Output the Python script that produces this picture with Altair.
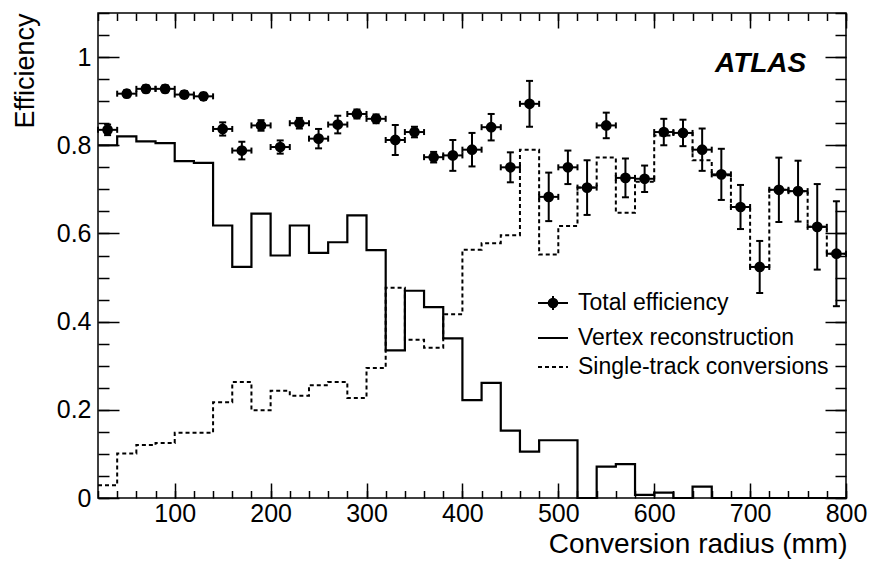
import altair as alt
import pandas as pd

FONT = "Liberation Sans"
W, H = 748, 485

# ---- data ----
bin_low = list(range(20, 800, 20))          # 20 mm bins, 20..800 mm
bin_width = 20

vertex = [0.800, 0.820, 0.809, 0.805, 0.764, 0.760, 0.618, 0.524, 0.645, 0.550,
          0.618, 0.556, 0.580, 0.641, 0.562, 0.335, 0.470, 0.433, 0.362, 0.222,
          0.261, 0.153, 0.105, 0.131, 0.131, 0.000, 0.071, 0.077, 0.007, 0.012,
          0.000, 0.026, 0.000, 0.000, 0.000, 0.000, 0.000, 0.000, 0.000]

single = [0.029, 0.101, 0.120, 0.125, 0.148, 0.148, 0.217, 0.263, 0.199, 0.243,
          0.232, 0.256, 0.263, 0.227, 0.295, 0.477, 0.359, 0.341, 0.417, 0.563,
          0.578, 0.596, 0.790, 0.552, 0.617, 0.704, 0.772, 0.647, 0.717, 0.822,
          0.828, 0.766, 0.732, 0.660, 0.524, 0.699, 0.696, 0.615, 0.554]

total = [0.835, 0.917, 0.928, 0.928, 0.915, 0.911, 0.837, 0.788, 0.845, 0.796,
         0.850, 0.815, 0.847, 0.871, 0.860, 0.812, 0.830, 0.773, 0.777, 0.790,
         0.841, 0.750, 0.894, 0.683, 0.750, 0.704, 0.845, 0.726, 0.724, 0.830,
         0.828, 0.790, 0.734, 0.660, 0.524, 0.699, 0.696, 0.615, 0.554]

total_err = [0.012, 0.008, 0.008, 0.008, 0.008, 0.008, 0.015, 0.020, 0.012, 0.015,
             0.012, 0.022, 0.020, 0.010, 0.010, 0.034, 0.012, 0.012, 0.035, 0.038,
             0.030, 0.034, 0.052, 0.055, 0.038, 0.062, 0.029, 0.044, 0.030, 0.030,
             0.030, 0.048, 0.058, 0.050, 0.059, 0.073, 0.069, 0.097, 0.119]

x_major = [100, 200, 300, 400, 500, 600, 700, 800]
x_minor = list(range(20, 801, 20))
y_major = [0, 0.2, 0.4, 0.6, 0.8, 1.0]
y_minor = [round(i * 0.05, 2) for i in range(0, 23)]

legend_labels = ["Total efficiency", "Vertex reconstruction", "Single-track conversions"]

# ---- tables ----
edges = bin_low + [bin_low[-1] + bin_width]
df_v = pd.DataFrame({"r": edges, "eff": vertex + [vertex[-1]]})
df_s = pd.DataFrame({"r": edges, "eff": single + [single[-1]]})
df_t = pd.DataFrame({
    "lo": bin_low,
    "hi": [b + bin_width for b in bin_low],
    "c": [b + bin_width / 2 for b in bin_low],
    "eff": total,
    "elo": [t - e for t, e in zip(total, total_err)],
    "ehi": [t + e for t, e in zip(total, total_err)],
})
df_vcap = pd.concat([
    pd.DataFrame({"c": df_t["c"], "ey": df_t["elo"]}),
    pd.DataFrame({"c": df_t["c"], "ey": df_t["ehi"]}),
])
df_hcap = pd.concat([
    pd.DataFrame({"ex": df_t["lo"], "eff": df_t["eff"]}),
    pd.DataFrame({"ex": df_t["hi"], "eff": df_t["eff"]}),
])

xs = alt.Scale(domain=[20, 800], nice=False, zero=False)
ys = alt.Scale(domain=[0, 1.1], nice=False, zero=False)


def tick_axis(orient, values, size, offset):
    return alt.Axis(orient=orient, values=values, offset=offset, ticks=True,
                    tickSize=size, tickWidth=1.5, tickColor="black",
                    labels=False, domain=False, grid=False, title="")


x_label_axis = alt.Axis(orient="bottom", values=x_major, ticks=False, tickSize=0,
                        domain=False, grid=False, labelFont=FONT, labelFontSize=25,
                        labelColor="black", labelPadding=3, labelFlush=False,
                        labelOverlap=False,
                        title="Conversion radius (mm)", titleFont=FONT,
                        titleFontSize=28, titleFontWeight="normal", titleColor="black",
                        titleAnchor="end", titleAlign="right", titleBaseline="alphabetic",
                        titleX=W + 1, titleY=54)
y_label_axis = alt.Axis(orient="left", values=y_major, format="~g", ticks=False,
                        tickSize=0, domain=False, grid=False, labelFont=FONT,
                        labelFontSize=25, labelColor="black", labelPadding=7,
                        title="Efficiency", titleFont=FONT, titleFontSize=27,
                        titleFontWeight="normal", titleColor="black", titleAngle=270,
                        titleAnchor="end", titleAlign="right", titleBaseline="alphabetic",
                        titleX=-65, titleY=0)

dashed = alt.Chart(df_s).mark_line(interpolate="step-after", color="black",
                                   strokeWidth=2, strokeDash=[4, 3]).encode(
    x=alt.X("r:Q", scale=xs, axis=x_label_axis),
    y=alt.Y("eff:Q", scale=ys, axis=y_label_axis),
)

solid = alt.Chart(df_v).mark_line(interpolate="step-after", color="black",
                                  strokeWidth=2.2).encode(
    x=alt.X("r:Q", scale=xs, axis=tick_axis("top", x_major, 15, -H)),
    y=alt.Y("eff:Q", scale=ys, axis=tick_axis("right", y_major, 21, -W)),
)

vbars = alt.Chart(df_t).mark_rule(color="black", strokeWidth=2).encode(
    x=alt.X("c:Q", scale=xs, axis=tick_axis("top", x_minor, 7.5, -H)),
    y=alt.Y("elo:Q", scale=ys, axis=tick_axis("right", y_minor, 11, -W)),
    y2="ehi:Q",
)

hbars = alt.Chart(df_t).mark_rule(color="black", strokeWidth=2).encode(
    x=alt.X("lo:Q", scale=xs, axis=tick_axis("bottom", x_major, 15, -H)),
    x2="hi:Q",
    y=alt.Y("eff:Q", scale=ys, axis=tick_axis("left", y_major, 21, -W)),
)

vcaps = alt.Chart(df_vcap).mark_tick(orient="horizontal", size=7, thickness=2,
                                     color="black", opacity=1).encode(
    x=alt.X("c:Q", scale=xs, axis=tick_axis("bottom", x_minor, 7.5, -H)),
    y=alt.Y("ey:Q", scale=ys, axis=tick_axis("left", y_minor, 11, -W)),
)

hcaps = alt.Chart(df_hcap).mark_tick(orient="vertical", size=6, thickness=2,
                                     color="black", opacity=1).encode(
    x=alt.X("ex:Q", scale=xs, axis=None),
    y=alt.Y("eff:Q", scale=ys, axis=None),
)

points = alt.Chart(df_t).mark_point(filled=True, shape="circle", size=115,
                                    color="black", opacity=1).encode(
    x=alt.X("c:Q", scale=xs, axis=None),
    y=alt.Y("eff:Q", scale=ys, axis=None),
)

one = pd.DataFrame({"k": [0]})

atlas = alt.Chart(one).mark_text(text="ATLAS", font=FONT, fontSize=28,
                                 fontWeight="bold", fontStyle="italic",
                                 align="left", baseline="alphabetic",
                                 color="black").encode(
    x=alt.value(617), y=alt.value(59))

# ---- legend ----
LX0, LX1, LXC, LTX = 440, 470, 455, 480
ROWS = [290, 325, 354]
leg_parts = []
leg_parts.append(alt.Chart(one).mark_rule(color="black", strokeWidth=2).encode(
    x=alt.value(LX0), x2=alt.value(LX1), y=alt.value(ROWS[0])))
leg_parts.append(alt.Chart(one).mark_rule(color="black", strokeWidth=2).encode(
    x=alt.value(LXC), y=alt.value(ROWS[0] - 7), y2=alt.value(ROWS[0] + 7)))
leg_parts.append(alt.Chart(one).mark_point(filled=True, shape="circle", size=115,
                                           color="black", opacity=1).encode(
    x=alt.value(LXC), y=alt.value(ROWS[0])))
leg_parts.append(alt.Chart(one).mark_rule(color="black", strokeWidth=2).encode(
    x=alt.value(LX0), x2=alt.value(LX1), y=alt.value(ROWS[1])))
leg_parts.append(alt.Chart(one).mark_rule(color="black", strokeWidth=2,
                                          strokeDash=[4, 3]).encode(
    x=alt.value(LX0), x2=alt.value(LX1), y=alt.value(ROWS[2])))
for lab, ry in zip(legend_labels, ROWS):
    leg_parts.append(alt.Chart(one).mark_text(text=lab, font=FONT, fontSize=23,
                                              align="left", baseline="middle",
                                              color="black").encode(
        x=alt.value(LTX), y=alt.value(ry)))

chart = alt.layer(dashed, solid, vbars, hbars, vcaps, hcaps, points, atlas,
                  *leg_parts).resolve_axis(
    x="independent", y="independent"
).properties(
    width=W, height=H,
    padding={"left": 98, "top": 13, "right": 26, "bottom": 65},
    autosize=alt.AutoSizeParams(type="none"),
    background="white",
).configure_view(stroke="black", strokeWidth=1.5)

chart.save("out.html", embed_options={"renderer": "svg", "actions": False})
